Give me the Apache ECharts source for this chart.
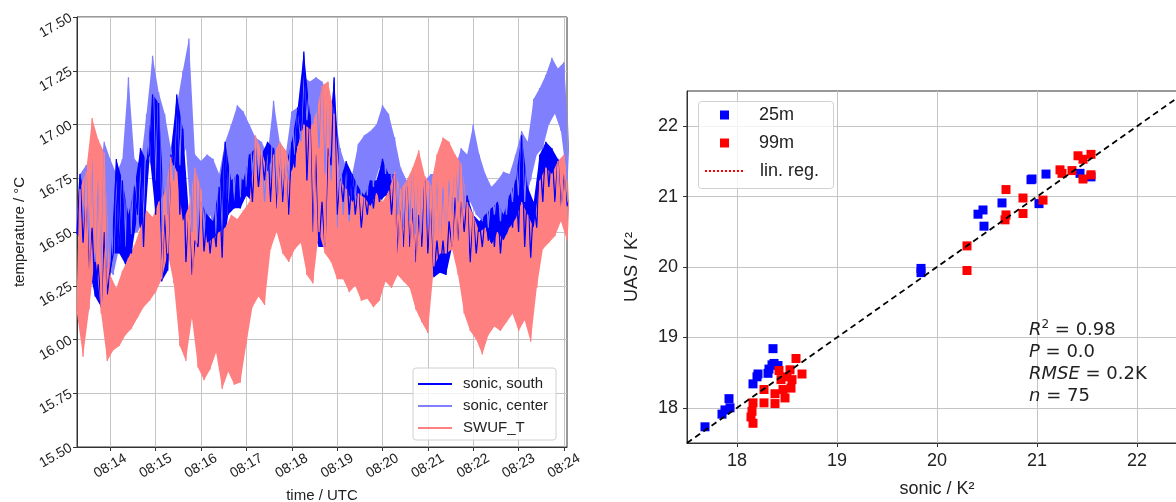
<!DOCTYPE html>
<html lang="en">
<head>
<meta charset="UTF-8">
<title>sonic vs UAS temperature</title>
<script src="https://cdn.jsdelivr.net/npm/echarts@6/dist/echarts.min.js"></script>
<style>
    html, body { margin: 0; padding: 0; background: #fff; }
    #main { width: 1176px; height: 502px; }
</style>
</head>
<body>
<div id="main"></div>
<script>
// left panel: band of each record, one low/high pair every 8 s starting 08:13:16
const t0 = 796;   // seconds after 08:00
const dt = 8;
const tEnd = 1444;

const southLo = [16.49,16.45,16.33,16.20,16.15,16.21,16.40,16.40,16.35,16.40,
    16.58,16.43,16.86,16.58,16.27,16.32,16.81,16.58,16.36,16.30,
    16.43,16.41,16.40,16.43,16.38,16.58,16.61,16.61,16.67,16.64,
    16.71,16.74,16.64,16.61,16.64,16.58,16.80,16.97,16.74,16.50,
    16.43,16.43,16.81,16.58,16.64,16.58,16.58,16.52,16.58,16.61,
    16.64,16.67,16.58,16.40,16.43,16.43,16.36,16.43,16.40,16.29,
    16.31,16.30,16.43,16.46,16.50,16.36,16.40,16.43,16.46,16.43,
    16.40,16.49,16.52,16.50,16.43,16.38,16.52,16.64,16.71,16.64,
    16.61,16.62];
const southHi = [16.77,16.66,16.52,16.35,16.50,16.33,16.84,16.74,16.58,16.71,
    16.89,16.83,17.14,17.10,16.58,16.86,17.14,16.98,16.58,16.46,
    16.64,16.58,16.55,16.71,16.92,16.74,16.77,16.74,16.86,16.89,
    16.86,16.92,16.89,16.84,16.81,16.92,17.08,17.34,17.05,16.86,
    16.64,16.89,17.22,16.74,16.83,16.77,16.71,16.67,16.74,16.74,
    16.84,16.77,16.77,16.64,16.71,16.61,16.58,16.74,16.64,16.46,
    16.46,16.55,16.66,16.64,16.67,16.58,16.55,16.58,16.61,16.64,
    16.58,16.67,16.74,16.95,16.71,16.64,16.86,16.92,16.89,16.84,
    16.77,16.66];
const centerLo = [16.52,16.55,16.43,16.36,16.30,16.33,16.30,16.43,16.43,16.49,
    16.50,16.55,16.83,16.74,16.50,16.58,16.74,16.81,16.89,16.50,
    16.46,16.43,16.58,16.49,16.50,16.58,16.64,16.66,16.71,16.77,
    16.74,16.64,16.74,16.61,16.64,16.74,16.86,16.92,17.02,17.00,
    16.89,16.77,16.74,16.52,16.58,16.55,16.64,16.67,16.67,16.71,
    16.80,16.77,16.74,16.58,16.52,16.55,16.49,16.46,16.52,16.43,
    16.43,16.50,16.58,16.64,16.61,16.64,16.58,16.55,16.52,16.58,
    16.55,16.58,16.64,16.67,16.64,16.74,16.86,16.89,17.00,17.05,
    16.97,16.74];
const centerHi = [16.77,16.81,16.84,16.74,16.92,16.84,16.77,16.84,17.22,16.84,
    16.81,17.05,17.32,17.15,17.05,16.89,17.09,17.25,17.40,16.86,
    16.83,16.86,16.84,16.77,16.92,17.00,17.09,17.06,17.00,16.94,
    16.92,16.86,17.11,16.92,16.86,17.06,17.08,17.22,17.20,17.22,
    17.20,17.15,17.08,16.89,16.80,16.77,16.91,16.95,16.97,17.00,
    17.09,17.05,16.94,16.80,16.74,16.78,16.77,16.74,16.77,16.77,
    16.71,16.74,16.80,16.89,16.86,17.00,16.86,16.77,16.71,16.74,
    16.78,16.77,16.86,16.97,16.92,17.12,17.17,17.23,17.31,17.26,
    17.29,17.05];
const swufLo = [16.12,15.92,16.14,16.40,16.12,15.90,15.95,15.97,16.02,16.05,
    16.10,16.15,16.18,16.22,16.28,16.40,16.26,15.97,15.90,16.10,
    15.87,15.81,15.86,15.94,15.77,15.85,15.79,15.80,15.98,16.15,
    16.20,16.16,16.42,16.50,16.40,16.36,16.42,16.45,16.30,16.26,
    16.50,16.40,16.36,16.28,16.28,16.22,16.25,16.18,16.19,16.15,
    16.18,16.27,16.24,16.30,16.27,16.24,16.14,16.08,16.03,16.34,
    16.40,16.40,16.42,16.30,16.12,16.04,16.00,15.93,16.02,16.06,
    16.04,16.08,16.12,16.04,16.09,15.99,16.24,16.42,16.45,16.48,
    16.55,16.46];
const swufHi = [16.70,16.78,17.03,16.93,16.87,16.30,16.24,16.32,16.38,16.44,
    16.52,16.60,16.57,16.64,16.68,16.85,16.78,16.55,16.62,16.80,
    16.70,16.45,16.47,16.50,16.52,16.58,16.56,16.60,16.64,16.95,
    16.88,16.78,16.86,16.92,16.88,16.78,16.90,17.00,16.98,17.05,
    17.18,17.20,17.05,16.74,16.70,16.64,16.68,16.66,16.62,16.68,
    16.64,16.69,16.78,16.70,16.74,16.80,16.88,16.76,16.72,16.86,
    16.94,16.92,16.86,16.82,16.64,16.58,16.50,16.52,16.44,16.50,
    16.46,16.52,16.56,16.64,16.58,16.52,16.74,16.80,16.77,16.83,
    16.86,16.78];

const timeTicks = [840, 900, 960, 1020, 1080, 1140, 1200, 1260, 1320, 1380, 1440];
const timeLabels = ['08:14', '08:15', '08:16', '08:17', '08:18', '08:19', '08:20', '08:21', '08:22', '08:23', '08:24'];

// right panel: UAS vs sonic
const x25 = [17.68,17.85,17.88,17.92,17.93,18.16,18.21,18.20,18.31,18.32,18.35,18.37,18.41,18.36,
    19.84,19.84,20.41,20.46,20.47,20.65,20.94,20.95,21.09,21.02,21.43,21.54];
const y25 = [17.73,17.91,17.97,18.13,18.00,18.34,18.48,18.44,18.49,18.55,18.61,18.63,18.60,18.84,
    19.98,19.92,20.75,20.81,20.58,20.91,21.24,21.25,21.32,20.90,21.33,21.28];
const x99 = [18.16,18.15,18.14,18.16,18.27,18.27,18.38,18.38,18.42,18.44,18.46,18.48,18.53,18.55,18.54,18.59,18.65,18.50,
    20.30,20.30,20.69,20.69,20.68,20.86,20.86,21.06,21.23,21.25,21.35,21.41,21.46,21.54,21.46,21.54];
const y99 = [18.07,17.95,17.87,17.78,18.26,18.07,18.06,18.20,18.53,18.40,18.26,18.14,18.54,18.40,18.28,18.70,18.48,18.44,
    20.30,19.95,21.10,20.74,20.67,20.98,20.76,20.95,21.38,21.33,21.37,21.58,21.53,21.60,21.25,21.31];
const oneToOne = [17.5, 22.5];
const uasTicks = [18, 19, 20, 21, 22];

// zigzag between the low and high readings
function zigzag(lo, hi) {
    let out = [];
    for (let i = 0; i < lo.length; i++) {
        out.push([t0 + i * dt, lo[i]]);
        out.push([t0 + i * dt + dt / 2, hi[i]]);
    }
    return out;
}
// filled band between low and high readings (same sample times as the zigzag)
function bandSeries(lo, hi, color) {
    return {
        type: 'custom', xAxisIndex: 0, yAxisIndex: 0, silent: true,
        data: [[t0, lo[0]]],
        renderItem: function (params, api) {
            let top = hi.map((v, i) => api.coord([Math.min(t0 + i * dt + dt / 2, tEnd), v]));
            let bot = lo.map((v, i) => api.coord([t0 + i * dt, v])).reverse();
            return { type: 'polygon', shape: { points: top.concat(bot) }, style: { fill: color } };
        }
    };
}
function pairs(xs, ys) {
    return xs.map((x, i) => [x, ys[i]]);
}

const font = 'Liberation Sans, Arial, sans-serif';
const grey = '#c4c4c4';
const ink = '#222';
const dots = 'path://' + [0, 4, 8, 12, 16, 20, 24, 28, 32, 36].map(x => 'M' + x + ' 0h2v2h-2z').join('');

let myChart = echarts.init(document.getElementById('main'), null, { renderer: 'canvas' });

let option = {
    animation: false,
    textStyle: { fontFamily: font },
    grid: [
        { left: 77, right: 609, top: 17, bottom: 55, show: true, borderColor: '#333', borderWidth: 1, outerBoundsMode: 'none' },
        { left: 687, right: -11, top: 91, bottom: 59, show: true, borderColor: '#333', borderWidth: 1, outerBoundsMode: 'none' }
    ],
    xAxis: [
        {
            type: 'value', gridIndex: 0, min: t0, max: tEnd,
            name: 'time / UTC', nameLocation: 'middle', nameGap: 41,
            nameTextStyle: { fontSize: 15, color: ink },
            axisLine: { show: true, onZero: false, lineStyle: { color: '#333' } },
            axisTick: { show: true, length: 4, customValues: timeTicks, lineStyle: { color: '#333' } },
            axisLabel: {
                customValues: timeTicks, rotate: 30, align: 'center', verticalAlign: 'middle', margin: 19,
                fontSize: 14, color: ink,
                formatter: v => timeLabels[timeTicks.indexOf(v)]
            },
            splitLine: { show: true, lineStyle: { color: grey, width: 1 } }
        },
        {
            type: 'value', gridIndex: 1, min: 17.5, max: 22.5,
            name: 'sonic / K²', nameLocation: 'middle', nameGap: 37,
            nameTextStyle: { fontSize: 18, color: ink },
            axisLine: { show: true, onZero: false, lineStyle: { color: '#333' } },
            axisTick: { show: true, length: 4, customValues: uasTicks, lineStyle: { color: '#333' } },
            axisLabel: { customValues: uasTicks, margin: 9, fontSize: 18, color: ink },
            splitLine: { show: true, lineStyle: { color: grey, width: 1 } }
        }
    ],
    yAxis: [
        {
            type: 'value', gridIndex: 0, min: 15.5, max: 17.5, interval: 0.25,
            name: 'temperature / °C', nameLocation: 'middle', nameGap: 50,
            nameTextStyle: { fontSize: 15, color: ink },
            axisLine: { show: true, onZero: false, lineStyle: { color: '#333' } },
            axisTick: { show: true, length: 4, lineStyle: { color: '#333' } },
            axisLabel: { rotate: 30, margin: 6, fontSize: 14, color: ink, formatter: v => v.toFixed(2) },
            splitLine: { show: true, lineStyle: { color: grey, width: 1 } }
        },
        {
            type: 'value', gridIndex: 1, min: 17.5, max: 22.5,
            name: 'UAS / K²', nameLocation: 'middle', nameGap: 46,
            nameTextStyle: { fontSize: 18, color: ink },
            axisLine: { show: true, onZero: false, lineStyle: { color: '#333' } },
            axisTick: { show: true, length: 4, customValues: uasTicks, lineStyle: { color: '#333' } },
            axisLabel: { customValues: uasTicks, margin: 9, fontSize: 18, color: ink },
            splitLine: { show: true, lineStyle: { color: grey, width: 1 } }
        }
    ],
    legend: [
        {
            data: [{ name: 'sonic, south', icon: 'rect' }, { name: 'sonic, center', icon: 'rect' }, { name: 'SWUF_T', icon: 'rect' }],
            orient: 'vertical', left: 413, top: 368,
            itemWidth: 34, itemHeight: 2, itemGap: 6,
            padding: [8, 8, 4, 5],
            backgroundColor: 'rgba(255,255,255,0.8)', borderColor: '#d0d0d0', borderWidth: 1, borderRadius: 3,
            textStyle: { fontSize: 15, lineHeight: 16, color: ink, padding: [0, 0, 0, 6] }
        },
        {
            data: [{ name: '25m', icon: 'rect' }, { name: '99m', icon: 'rect' }],
            orient: 'vertical', left: 720, top: 106,
            itemWidth: 9, itemHeight: 9, itemGap: 10, padding: 0,
            textStyle: { fontSize: 18, lineHeight: 18, color: ink, padding: [0, 0, 0, 25] }
        },
        {
            data: [{ name: 'lin. reg.', icon: dots }],
            orient: 'vertical', left: 705, top: 162,
            itemWidth: 38, itemHeight: 2, padding: 0,
            textStyle: { fontSize: 18, lineHeight: 18, color: ink, padding: [0, 0, 0, 12] }
        }
    ],
    graphic: [
        {
            type: 'rect', left: 698, top: 101, z: 4,
            shape: { width: 135, height: 87, r: 3 },
            style: { fill: 'rgba(255,255,255,0.8)', stroke: '#d0d0d0', lineWidth: 1 }
        },
        {
            type: 'text', left: 1029, top: 319, z: 5,
            style: {
                text: '{i|R}{s|2}{t| = 0.98}\n{i|P}{t| = 0.0}\n{i|RMSE}{t| = 0.2K}\n{i|n}{t| = 75}',
                fill: ink,
                rich: {
                    i: { fontFamily: 'DejaVu Sans', fontStyle: 'italic', fontSize: 18, lineHeight: 22 },
                    s: { fontFamily: 'DejaVu Sans', fontSize: 12, lineHeight: 22, verticalAlign: 'top' },
                    t: { fontFamily: 'DejaVu Sans', fontSize: 18, lineHeight: 22 }
                }
            }
        }
    ],
    series: [
        bandSeries(centerLo, centerHi, '#8080ff'),
        {
            name: 'sonic, center', type: 'line', xAxisIndex: 0, yAxisIndex: 0,
            data: zigzag(centerLo, centerHi), symbol: 'none',
            lineStyle: { color: '#8080ff', width: 1.3 }, itemStyle: { color: '#8080ff' }
        },
        bandSeries(southLo, southHi, '#0000ff'),
        {
            name: 'sonic, south', type: 'line', xAxisIndex: 0, yAxisIndex: 0,
            data: zigzag(southLo, southHi), symbol: 'none',
            lineStyle: { color: '#0000ff', width: 1.3 }, itemStyle: { color: '#0000ff' }
        },
        bandSeries(swufLo, swufHi, '#ff8080'),
        {
            name: 'SWUF_T', type: 'line', xAxisIndex: 0, yAxisIndex: 0,
            data: zigzag(swufLo, swufHi), symbol: 'none',
            lineStyle: { color: '#ff8080', width: 1.3 }, itemStyle: { color: '#ff8080' }
        },
        {
            name: 'lin. reg.', type: 'line', xAxisIndex: 1, yAxisIndex: 1,
            data: [], symbol: 'none',
            lineStyle: { color: '#ff0000', width: 1.5, type: [2, 2] }, itemStyle: { color: '#ff0000' }
        },
        {
            name: 'one to one', type: 'line', xAxisIndex: 1, yAxisIndex: 1,
            data: pairs(oneToOne, oneToOne), symbol: 'none', clip: false,
            lineStyle: { color: '#000', width: 1.8, type: [6, 4] }
        },
        {
            name: '25m', type: 'scatter', xAxisIndex: 1, yAxisIndex: 1,
            data: pairs(x25, y25), symbol: 'rect', symbolSize: 9,
            itemStyle: { color: '#0000ff', opacity: 1 }
        },
        {
            name: '99m', type: 'scatter', xAxisIndex: 1, yAxisIndex: 1,
            data: pairs(x99, y99), symbol: 'rect', symbolSize: 9,
            itemStyle: { color: '#ff0000', opacity: 1 }
        }
    ]
};

myChart.setOption(option);
</script>
</body>
</html>
